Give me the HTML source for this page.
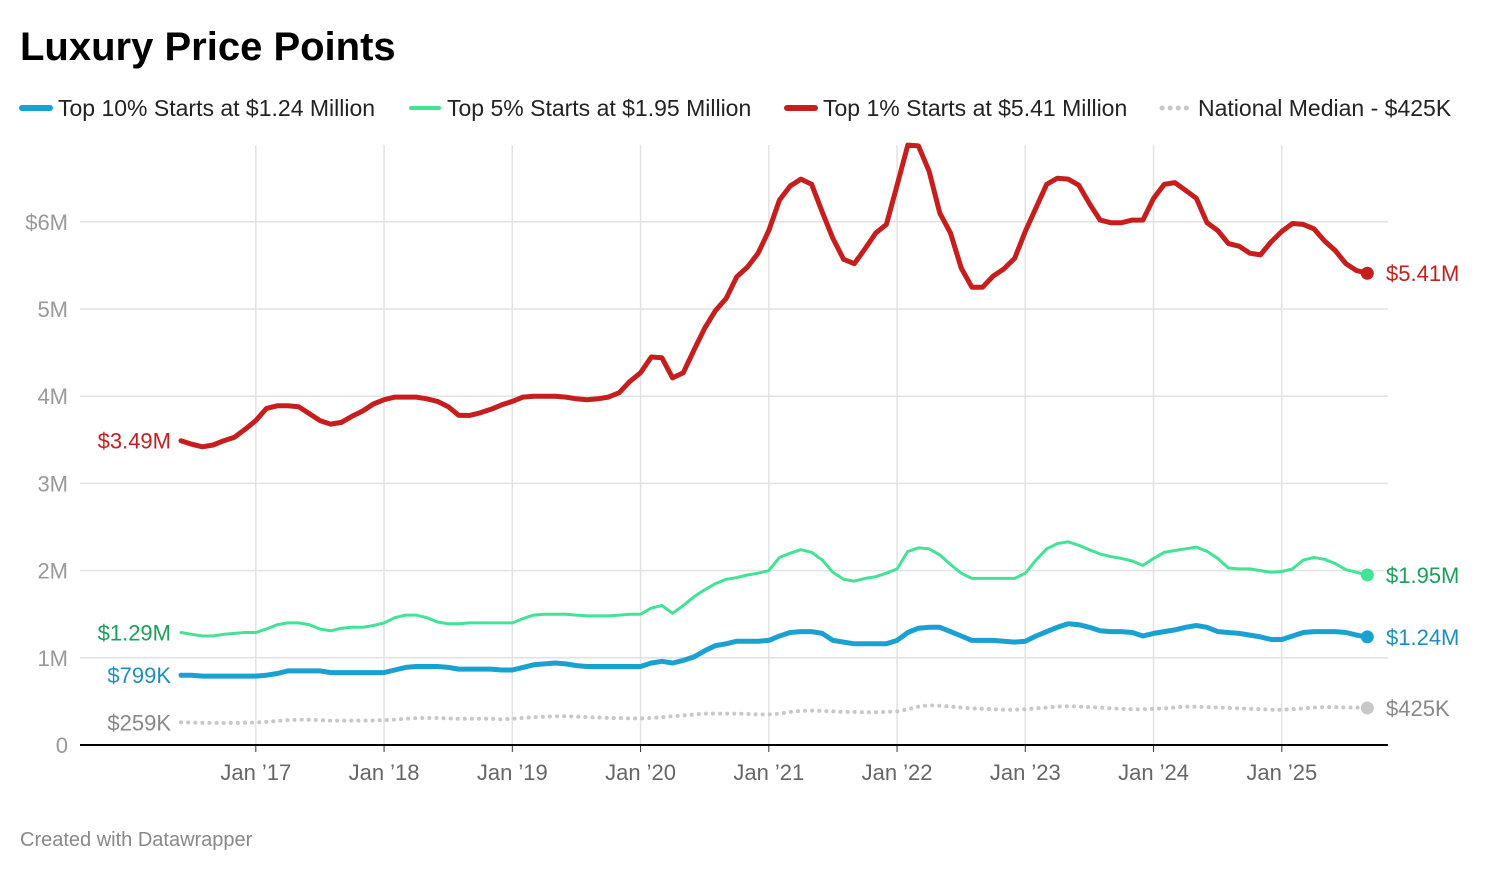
<!DOCTYPE html>
<html><head><meta charset="utf-8"><style>
body{margin:0;background:#fff;width:1488px;height:872px;overflow:hidden;font-family:"Liberation Sans",sans-serif}
</style></head><body>
<svg id="chart" width="1488" height="872" xmlns="http://www.w3.org/2000/svg" font-family="Liberation Sans, sans-serif">
<text x="20" y="60" font-size="40" font-weight="bold" fill="#000">Luxury Price Points</text>
<g font-size="23" fill="#222">
<g><line x1="22" y1="108" x2="50" y2="108" stroke="#1aa1d3" stroke-width="6" stroke-linecap="round"/><text x="58" y="116">Top 10% Starts at $1.24 Million</text></g>
<g><line x1="411" y1="108" x2="439" y2="108" stroke="#41e494" stroke-width="4" stroke-linecap="round"/><text x="447" y="116">Top 5% Starts at $1.95 Million</text></g>
<g><line x1="787" y1="108" x2="815" y2="108" stroke="#c71e1d" stroke-width="6" stroke-linecap="round"/><text x="823" y="116">Top 1% Starts at $5.41 Million</text></g>
<g><line x1="1162" y1="108" x2="1188" y2="108" stroke="#c8c8c8" stroke-width="5" stroke-linecap="round" stroke-dasharray="0.1 8"/><text x="1198" y="116">National Median - $425K</text></g>
</g>
<g id="grid"></g>
<g id="series"></g>
<g id="labels"></g>
<text x="20" y="846" font-size="20" fill="#888">Created with Datawrapper</text>
</svg>
<script>
const yTicks=[0,1,2,3,4,5,6];
const yTickLabels=["0","1M","2M","3M","4M","5M","$6M"];
const xTickLabels=["Jan \u201917","Jan \u201918","Jan \u201919","Jan \u201920","Jan \u201921","Jan \u201922","Jan \u201923","Jan \u201924","Jan \u201925"];
const xTickIndex=[7,19,31,43,55,67,79,91,103];
const top1=[3.49,3.45,3.42,3.44,3.49,3.53,3.62,
3.72,3.86,3.89,3.89,3.88,3.80,3.72,3.68,3.70,3.77,3.83,3.91,
3.96,3.99,3.99,3.99,3.97,3.94,3.88,3.78,3.78,3.81,3.85,3.90,
3.94,3.99,4.00,4.00,4.00,3.99,3.97,3.96,3.97,3.99,4.04,4.17,
4.27,4.45,4.44,4.21,4.27,4.53,4.78,4.98,5.12,5.37,5.48,5.64,
5.90,6.25,6.41,6.49,6.43,6.11,5.81,5.57,5.52,5.69,5.87,5.97,
6.42,6.88,6.87,6.58,6.10,5.87,5.47,5.25,5.25,5.38,5.46,5.58,
5.89,6.16,6.43,6.50,6.49,6.42,6.21,6.02,5.99,5.99,6.02,6.02,
6.27,6.43,6.45,6.36,6.27,5.99,5.90,5.75,5.72,5.64,5.62,5.77,
5.89,5.98,5.97,5.92,5.78,5.67,5.52,5.44,5.41];
const top5=[1.29,1.27,1.25,1.25,1.27,1.28,1.29,
1.29,1.33,1.38,1.40,1.40,1.38,1.33,1.31,1.34,1.35,1.35,1.37,
1.40,1.46,1.49,1.49,1.46,1.41,1.39,1.39,1.40,1.40,1.40,1.40,
1.40,1.45,1.49,1.50,1.50,1.50,1.49,1.48,1.48,1.48,1.49,1.50,
1.50,1.57,1.60,1.51,1.60,1.70,1.78,1.85,1.90,1.92,1.95,1.97,
2.00,2.15,2.20,2.24,2.21,2.12,1.98,1.90,1.88,1.91,1.93,1.97,
2.02,2.22,2.26,2.25,2.18,2.07,1.97,1.91,1.91,1.91,1.91,1.91,
1.97,2.12,2.25,2.31,2.33,2.29,2.24,2.19,2.16,2.14,2.11,2.06,
2.14,2.21,2.23,2.25,2.27,2.22,2.14,2.03,2.02,2.02,2.00,1.98,
1.99,2.02,2.12,2.15,2.13,2.08,2.01,1.98,1.95];
const top10=[0.80,0.80,0.79,0.79,0.79,0.79,0.79,
0.79,0.80,0.82,0.85,0.85,0.85,0.85,0.83,0.83,0.83,0.83,0.83,
0.83,0.86,0.89,0.90,0.90,0.90,0.89,0.87,0.87,0.87,0.87,0.86,
0.86,0.89,0.92,0.93,0.94,0.93,0.91,0.90,0.90,0.90,0.90,0.90,
0.90,0.94,0.96,0.94,0.97,1.01,1.08,1.14,1.16,1.19,1.19,1.19,
1.20,1.25,1.29,1.30,1.30,1.28,1.20,1.18,1.16,1.16,1.16,1.16,
1.20,1.29,1.34,1.35,1.35,1.30,1.25,1.20,1.20,1.20,1.19,1.18,
1.19,1.25,1.30,1.35,1.39,1.38,1.35,1.31,1.30,1.30,1.29,1.25,
1.28,1.30,1.32,1.35,1.37,1.35,1.30,1.29,1.28,1.26,1.24,1.21,
1.21,1.25,1.29,1.30,1.30,1.30,1.29,1.26,1.24];
const median=[.259,.258,.255,.253,.252,.253,.255,
.258,.265,.275,.285,.29,.29,.285,.28,.28,.28,.28,.28,
.285,.29,.30,.31,.31,.31,.305,.30,.30,.30,.30,.295,
.30,.31,.32,.325,.33,.33,.325,.32,.315,.31,.31,.305,
.305,.31,.32,.33,.34,.35,.36,.36,.36,.36,.355,.35,
.35,.36,.38,.39,.395,.39,.385,.38,.38,.375,.375,.38,
.385,.41,.44,.455,.45,.44,.43,.42,.415,.41,.405,.405,
.41,.42,.43,.44,.445,.44,.435,.43,.42,.415,.41,.41,
.415,.42,.43,.44,.44,.435,.43,.425,.42,.415,.41,.405,
.405,.41,.42,.43,.435,.435,.43,.43,.425];
const startLabels=["$3.49M","$1.29M","$799K","$259K"];
const endLabels=["$5.41M","$1.95M","$1.24M","$425K"];

const NS="http://www.w3.org/2000/svg";
const X0=181, MONTH=(1283-257)/96;
const x=i=>X0+i*MONTH;
const y=v=>745-v*87.2;
function mk(tag,attrs,parent){const e=document.createElementNS(NS,tag);for(const k in attrs)e.setAttribute(k,attrs[k]);parent.appendChild(e);return e;}
const grid=document.getElementById('grid'),ser=document.getElementById('series'),lab=document.getElementById('labels');
yTicks.forEach((t,i)=>{
 if(t>0){const l=mk('line',{x1:80,x2:1388,y1:y(t),y2:y(t),stroke:'#e2e2e2','stroke-width':1.5},grid);
 
 }
 const tx=mk('text',{x:68,y:y(t)+8,'text-anchor':'end','font-size':22,fill:'#999'},grid);tx.textContent=yTickLabels[i];
 
 
});
xTickIndex.forEach((idx,i)=>{
 const l=mk('line',{x1:x(idx),x2:x(idx),y1:145,y2:745,stroke:'#e2e2e2','stroke-width':1.5},grid);
 
 
 const tk=mk('line',{x1:x(idx),x2:x(idx),y1:745,y2:752,stroke:'#333','stroke-width':1},grid);
 
 
 const tx=mk('text',{x:x(idx),y:780,'text-anchor':'middle','font-size':22,fill:'#666'},grid);tx.textContent=xTickLabels[i];
 
 
});
const base=mk('line',{x1:80,x2:1388,y1:745,y2:745,stroke:'#000','stroke-width':2},grid);


const series=[
 {d:median,c:'#c8c8c8',w:4,dash:'0.1 7',name:'median-line',lc:'#888'},
 {d:top10,c:'#1aa1d3',w:5,name:'top10-line',lc:'#1a8fc0'},
 {d:top5,c:'#41e494',w:3,name:'top5-line',lc:'#19a05a'},
 {d:top1,c:'#c71e1d',w:5,name:'top1-line',lc:'#c71e1d'}];
const sIdx={'top1-line':0,'top5-line':1,'top10-line':2,'median-line':3};
const startDy={'top1-line':0,'top5-line':0,'top10-line':0,'median-line':0};
series.forEach(s=>{
 const pts=s.d.map((v,i)=>x(i).toFixed(1)+','+y(v).toFixed(1)).join(' ');
 const a={points:pts,fill:'none',stroke:s.c,'stroke-width':s.w,'stroke-linejoin':'round','stroke-linecap':'round'};
 if(s.dash)a['stroke-dasharray']=s.dash;
 const p=mk('polyline',a,ser);
 
 
 const n=s.d.length-1;
 const dot=mk('circle',{cx:x(n),cy:y(s.d[n]),r:6.5,fill:s.c},ser);
 
 
 const k=sIdx[s.name];
 const t1=mk('text',{x:171,y:y(s.d[0])+8+startDy[s.name],'text-anchor':'end','font-size':22,fill:s.lc},lab);t1.textContent=startLabels[k];
 
 
 const t2=mk('text',{x:1386,y:y(s.d[n])+8,'font-size':22,fill:s.lc},lab);t2.textContent=endLabels[k];
 
 
});
</script>
</body></html>
